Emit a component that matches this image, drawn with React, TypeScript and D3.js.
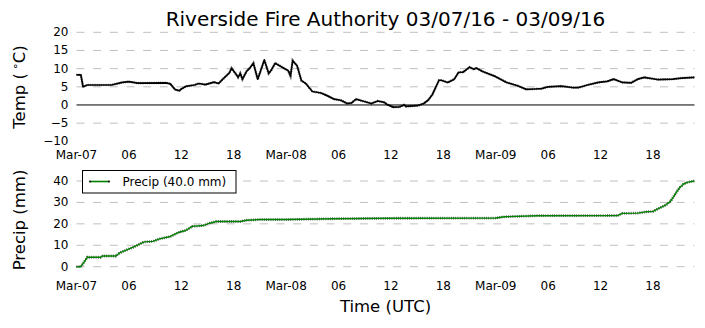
import React from "react";
import * as d3 from "d3";

const titleText = "Riverside Fire Authority 03/07/16 - 03/09/16";
const startUTC = Date.UTC(2016, 2, 7, 0, 0);

const tempHours = [0,0.5,0.75,1.25,4,5.25,6,7,10.25,10.75,11.25,11.75,12,12.5,13.5,14,14.75,15.75,16.25,16.75,17.5,17.75,18.25,18.5,18.75,19,19.5,19.75,20.25,20.75,21.5,22,22.25,22.75,23.25,24.25,24.5,24.75,25.25,25.75,26.25,27,28,28.75,29.5,30.25,31,31.5,32,32.75,33.75,34.5,35.25,35.5,36.25,37,37.5,37.75,39,39.75,40.25,40.75,41.5,41.75,42.5,43.25,43.75,44.25,45,45.5,45.75,46.5,48,49.25,50.5,51.5,52.5,53.25,54,55.5,56.75,57.5,58.5,59.75,60.75,61.5,62.5,63.5,64.25,65,66.5,68.25,69.25,70.75];
const tempValues = [8.3,8.3,5.0,5.5,5.5,6.2,6.4,6.0,6.1,5.8,4.3,3.9,4.4,5.1,5.5,5.9,5.6,6.3,5.9,7.1,8.8,10.1,8.5,7.6,8.7,7.1,9.4,9.9,11.5,7.1,12.4,8.7,9.4,11.5,10.8,9.4,8.0,12.2,10.8,6.7,5.9,3.7,3.3,2.5,1.6,1.3,0.4,0.6,1.6,1.1,0.4,1.1,0.7,0.2,-0.6,-0.5,0.0,-0.4,-0.2,0.4,1.3,2.9,6.8,6.8,6.2,7.1,9.0,9.0,10.4,9.8,10.2,9.2,7.8,6.2,5.3,4.3,4.4,4.5,5.0,5.2,4.8,4.8,5.5,6.2,6.5,7.1,6.2,6.1,7.1,7.6,7.0,7.1,7.4,7.6];

const precipHours = [0,0.5,1.25,2.75,3,4.5,5,6.5,7.75,8.75,9.5,10.75,11.75,12.5,13.25,14.5,15.25,16,18.75,19.5,21,24,29.5,36,48,49,52.75,62,62.5,64.25,65,66,66.5,67.5,68,68.5,69,69.5,70,70.75];
const precipValues = [0,0,4.4,4.4,5.0,5.0,6.6,9.1,11.6,11.8,13.0,14.1,16.1,16.9,18.8,19.2,20.3,21.1,21.1,21.7,22.0,22.0,22.4,22.6,22.7,23.3,23.8,23.9,24.9,25.0,25.5,25.8,26.9,28.9,30.5,33.6,36.7,38.6,39.5,40.0];

const tempTicks = [-10, -5, 0, 5, 10, 15, 20];
const precipTicks = [0, 10, 20, 30, 40];

const toDate = (h: number) => new Date(startUTC + h * 3600 * 1000);

const FONT = "DejaVu Sans, Verdana, sans-serif";

export default function App() {
  const tempData = tempHours.map((h, i) => ({ t: toDate(h), v: tempValues[i] }));
  const precipData = precipHours.map((h, i) => ({ t: toDate(h), v: precipValues[i] }));

  const x = d3
    .scaleUtc()
    .domain([toDate(tempHours[0]), toDate(tempHours[tempHours.length - 1])])
    .range([76.5, 694.5]);
  const yT = d3.scaleLinear().domain([-10, 20]).range([141.3, 32.3]);
  const yP = d3.scaleLinear().domain([0, 40]).range([266.7, 181]);

  const xTicks = d3.utcHour.every(6)!.range(x.domain()[0], new Date(+x.domain()[1] + 1));
  const fmt = (d: Date) =>
    d.getUTCHours() === 0 ? d3.utcFormat("%b-%d")(d) : d3.utcFormat("%H")(d);

  const tLine = d3
    .line<{ t: Date; v: number }>()
    .x((d) => x(d.t))
    .y((d) => yT(d.v));
  const pLine = d3
    .line<{ t: Date; v: number }>()
    .x((d) => x(d.t))
    .y((d) => yP(d.v));

  const [x0, x1] = x.range();
  const total = d3.max(precipValues)!;
  const minus = (v: number) => (v < 0 ? "\u2212" + Math.abs(v) : String(v));

  return (
    <svg
      width={705}
      height={328}
      style={{ position: "absolute", left: 0, top: 0, background: "#fff" }}
      fontFamily={FONT}
    >
      <rect width={705} height={328} fill="#fff" />
      <text x={385.5} y={26} fontSize={20} textAnchor="middle">
        {titleText}
      </text>

      {/* Temperature panel */}
      {tempTicks.map((v) =>
        v === 0 || v === -10 ? null : (
          <line
            key={"tg" + v}
            x1={x0}
            x2={x1}
            y1={yT(v)}
            y2={yT(v)}
            stroke="#c0c0c0"
            strokeWidth={1}
            strokeDasharray="8 8.67"
          />
        )
      )}
      <line x1={x0} x2={x1} y1={yT(0)} y2={yT(0)} stroke="#000" strokeWidth={1} />
      {tempTicks.map((v) => (
        <text key={"tl" + v} x={68.5} y={yT(v) + 4} fontSize={12} textAnchor="end">
          {minus(v)}
        </text>
      ))}
      {xTicks.map((d, i) => (
        <text key={"xt" + i} x={x(d)} y={158.5} fontSize={12} textAnchor="middle">
          {fmt(d)}
        </text>
      ))}
      <path d={tLine(tempData)!} fill="none" stroke="#000" strokeWidth={1.7} strokeLinejoin="round" />
      <path
        d={tLine(tempData)!}
        fill="none"
        stroke="#000"
        strokeWidth={2.6}
        strokeDasharray="0.7 1.5"
        opacity={0.6}
      />
      <text transform="translate(24.5,87) rotate(-90)" fontSize={16.5} textAnchor="middle">
        Temp (
        <tspan dx={3} fontSize={11} dy={-6}>
          ∘
        </tspan>
        <tspan dy={6}>C)</tspan>
      </text>

      {/* Precip panel */}
      {precipTicks.map((v) => (
        <line
          key={"pg" + v}
          x1={x0}
          x2={x1}
          y1={yP(v)}
          y2={yP(v)}
          stroke="#c0c0c0"
          strokeWidth={1}
          strokeDasharray="8 8.67"
        />
      ))}
      {precipTicks.map((v) => (
        <text key={"pl" + v} x={68.5} y={yP(v) + 4} fontSize={12} textAnchor="end">
          {v}
        </text>
      ))}
      {xTicks.map((d, i) => (
        <text key={"xb" + i} x={x(d)} y={290} fontSize={12} textAnchor="middle">
          {fmt(d)}
        </text>
      ))}
      <path
        d={pLine(precipData)!}
        fill="none"
        stroke="#000"
        strokeWidth={2.8}
        strokeDasharray="0.7 1.5"
        opacity={0.8}
      />
      <path d={pLine(precipData)!} fill="none" stroke="#008000" strokeWidth={1.4} strokeLinejoin="round" />
      <text transform="translate(25,220) rotate(-90)" fontSize={16.5} textAnchor="middle">
        Precip (mm)
      </text>

      {/* Legend */}
      <rect x={82.5} y={170.5} width={153.5} height={22.5} fill="#fff" stroke="#000" strokeWidth={1} />
      <line x1={90} x2={109} y1={181.5} y2={181.5} stroke="#008000" strokeWidth={1.6} />
      <circle cx={90} cy={181.5} r={1} fill="#000" />
      <circle cx={109} cy={181.5} r={1} fill="#000" />
      <text x={122.5} y={186} fontSize={12}>
        {`Precip (${total.toFixed(1)} mm)`}
      </text>

      <text x={385.5} y={312} fontSize={16.5} textAnchor="middle">
        Time (UTC)
      </text>
    </svg>
  );
}
